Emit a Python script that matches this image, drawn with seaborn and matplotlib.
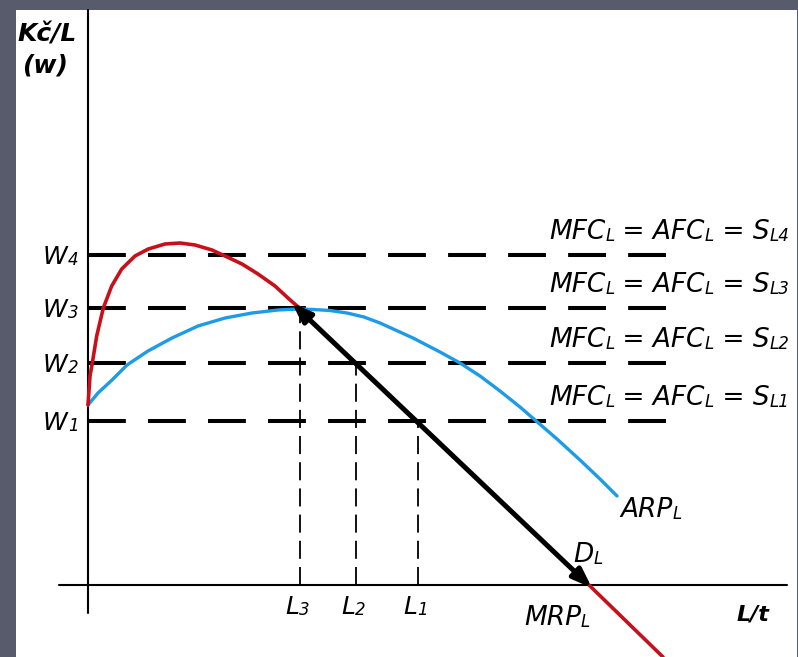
import numpy as np
import pandas as pd
import seaborn as sns
import matplotlib.pyplot as plt
from matplotlib.patches import Rectangle

# wage levels W1..W4 and labour quantities L1..L3 (chart units, origin at the axes cross)
w_levels = [16.4, 22.2, 27.7, 33.0]
w_names = ["1", "2", "3", "4"]
l_levels = [33.0, 26.8, 21.2]
l_names = ["1", "2", "3"]

# ARP_L (blue)
arp_x = [0.0, 1.0, 2.4, 3.9, 6.0, 8.4, 11.0, 13.7, 16.4, 19.0, 21.0, 22.5, 24.2, 25.9,
         27.6, 29.2, 32.5, 35.2, 37.2, 39.2, 41.2, 43.2, 44.7, 46.9, 49.2, 51.2, 52.9]
arp_y = [18.0, 19.2, 20.5, 22.0, 23.4, 24.7, 25.9, 26.7, 27.2, 27.5, 27.6, 27.55, 27.45, 27.2,
         26.8, 26.2, 24.7, 23.3, 22.2, 20.9, 19.4, 17.8, 16.5, 14.6, 12.5, 10.6, 8.9]

# MRP_L (red): rising/falling part up to the ARP peak, then the part below the axis
mrp_x = [0.0, 0.2, 0.43, 0.87, 1.53, 2.37, 3.37, 4.7, 6.03, 7.7, 9.2, 10.7, 12.4, 13.7,
         15.4, 17.0, 18.7, 20.0, 20.9, 21.2]
mrp_y = [18.0, 20.9, 22.2, 24.9, 27.7, 29.9, 31.6, 32.9, 33.6, 34.1, 34.2, 34.0, 33.5, 32.9,
         32.1, 31.1, 29.9, 28.7, 27.9, 27.7]
mrp_tail_x = [50.1, 57.5]
mrp_tail_y = [0.0, -7.2]

# D_L (black double arrow)
dl_x = [20.4, 50.4]
dl_y = [28.2, -0.3]

RED = "#c8101a"
BLUE = "#1e9be6"
BG = "#585b6b"

sns.set_theme(style="white")
plt.rcParams["font.family"] = ["DejaVu Sans"]
plt.rcParams["text.color"] = "black"

fig = plt.figure(figsize=(7.98, 6.57), dpi=100, facecolor=BG)
ax = fig.add_axes([0, 0, 1, 1])
ax.axis("off")

# white slide panel
ax.add_patch(Rectangle((16 / 798, 0), 781 / 798, 647 / 657, transform=ax.transAxes,
                       facecolor="white", edgecolor="none", zorder=0))

# axes
ax.plot([0, 0], [-2.8, 57.5], color="black", lw=1.5, zorder=2)
ax.plot([-2.9, 69.9], [0, 0], color="black", lw=1.5, zorder=2)

# MFC = AFC = S lines
for w in w_levels:
    ax.plot([0, 57.9], [w, w], color="black", lw=2.9, ls=(0, (9.4, 5.5)), zorder=3)

# dashed drops to L
for lx, w in zip(l_levels, w_levels[:3]):
    ax.plot([lx, lx], [0, w], color="black", lw=1.3, ls=(0, (10, 4.5)), zorder=2)

df_arp = pd.DataFrame({"L": arp_x, "w": arp_y})
df_mrp = pd.DataFrame({"L": mrp_x, "w": mrp_y})
df_tail = pd.DataFrame({"L": mrp_tail_x, "w": mrp_tail_y})
sns.lineplot(data=df_arp, x="L", y="w", sort=False, estimator=None, color=BLUE, lw=2.4, ax=ax, zorder=4)
sns.lineplot(data=df_mrp, x="L", y="w", sort=False, estimator=None, color=RED, lw=2.6, ax=ax, zorder=4)
sns.lineplot(data=df_tail, x="L", y="w", sort=False, estimator=None, color=RED, lw=2.6, ax=ax, zorder=4)
ax.set_xlim(-8.8, 71.0)
ax.set_ylim(-7.2, 58.5)

ax.annotate("", xy=(dl_x[1], dl_y[1]), xytext=(dl_x[0], dl_y[0]), zorder=6,
            arrowprops=dict(arrowstyle="<|-|>,head_length=0.95,head_width=0.35",
                            color="black", lw=3.6, shrinkA=0, shrinkB=0))


def rich(x, y, parts, weight="normal"):
    t = ax.text(x, y, parts[0][0], fontsize=parts[0][1], style="italic", weight=weight,
                ha="left", va="bottom", color="black", zorder=7)
    for s, size in parts[1:]:
        t = ax.annotate(s, xy=(1, 0), xycoords=t, fontsize=size, style="italic", weight=weight,
                        ha="left", va="bottom", color="black", zorder=7)
    return t


for w, n in zip(w_levels, w_names):
    rich(46.1, w + 1.0, [("MFC", 19), ("L", 12), (" = AFC", 19), ("L", 12), (" = S", 19), ("L" + n, 12)])
    rich(-4.5, w - 1.4, [("W", 18), (n, 12)])

for lx, n in zip(l_levels, l_names):
    rich(lx - 1.5, -3.4, [("L", 18), (n, 12)])

rich(43.6, -4.6, [("MRP", 19), ("L", 12)])
rich(48.5, 1.7, [("D", 19), ("L", 12)])
rich(53.2, 6.2, [("ARP", 19), ("L", 12)])

ax.text(-4.05, 54.3, "Kč/L", fontsize=18, style="italic", weight="bold", color="black",
        ha="center", va="baseline")
ax.text(-4.3, 51.2, "(w)", fontsize=18, style="italic", weight="bold", color="black",
        ha="center", va="baseline")
ax.text(66.5, -3.5, "L/t", fontsize=16, style="italic", weight="bold", color="black",
        ha="center", va="baseline")

fig.savefig("out.png", dpi=100, facecolor=BG)
